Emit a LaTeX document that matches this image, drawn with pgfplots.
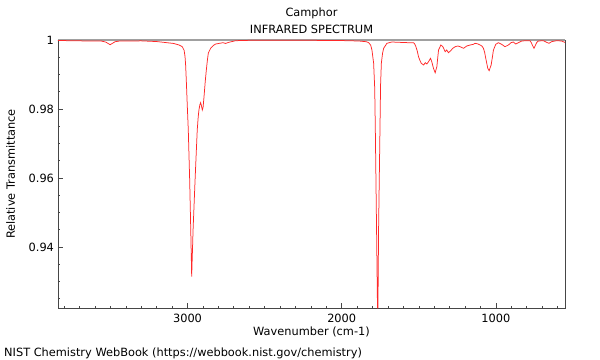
\documentclass[border=0pt]{standalone}
\usepackage{fontspec}
\setmainfont{DejaVu Sans}
\usepackage{pgfplots}
\pgfplotsset{compat=1.18}
\definecolor{spec}{RGB}{255,40,40}
\definecolor{frame}{RGB}{70,70,70}
\definecolor{topline}{RGB}{160,160,160}
\newcommand{\fs}{\fontsize{11.4}{13.5}\selectfont}
\begin{document}
\begin{tikzpicture}
\useasboundingbox (-58bp,-52bp) rectangle (542bp,308bp);
\begin{axis}[
  at={(0,0)}, anchor=south west,
  scale only axis, width=507bp, height=268bp,
  xmin=552, xmax=3840, x dir=reverse,
  ymin=0.9223, ymax=1,
  clip=false,
  xtick={1000,2000,3000},
  minor xtick={600,700,...,3800},
  ytick={0.94,0.96,0.98,1},
  minor ytick={0.925,0.93,...,0.996},
  xtick pos=lower, ytick pos=left,
  tick align=inside,
  major tick length=5bp, minor tick length=2.5bp,
  every tick/.style={frame, line width=0.6bp},
  axis line style={frame, line width=0.8bp},
  /pgf/number format/1000 sep={},
  /pgf/number format/assume math mode=true,
  ticklabel style={font=\fs, text=black},
  xticklabel style={yshift=-3bp},
  yticklabel style={xshift=-0.5bp},
]
\addplot[topline, line width=1.8bp, forget plot] coordinates {(552,1) (3840,1)};
\addplot[spec, line width=0.75bp] coordinates {
(3840,0.99986) (3700,0.99975) (3560,0.99971) (3530,0.99940) (3515,0.99900)
(3502,0.99864) (3488,0.99900) (3470,0.99950) (3440,0.99971) (3300,0.99975)
(3200,0.99955) (3150,0.99930) (3090,0.99900) (3055,0.99855) (3034,0.99806)
(3022,0.99700) (3016,0.99516) (3012,0.99250) (3008,0.98841) (3002,0.98150)
(2995,0.97391) (2986,0.95942) (2979,0.94493) (2975,0.93600) (2973,0.93139)
(2970,0.93600) (2964,0.94493) (2951,0.95942) (2937,0.97391) (2931,0.97750)
(2926,0.97971) (2920,0.98120) (2915,0.98183) (2910,0.98100) (2904,0.97971)
(2899,0.98050) (2893,0.98357) (2885,0.98800) (2878,0.99130) (2871,0.99420)
(2865,0.99623) (2850,0.99759) (2830,0.99850) (2817,0.99884) (2770,0.99922)
(2753,0.99900) (2735,0.99930) (2688,0.99980) (2602,0.99990) (2400,0.99995)
(2200,0.99990) (2019,0.99986) (1889,0.99971) (1840,0.99950) (1825,0.99922)
(1812,0.99850) (1804,0.99710) (1793,0.99325) (1786,0.98600) (1782,0.97391)
(1774,0.94493) (1768,0.9223) (1765,0.9223) (1761,0.94493) (1752,0.97391)
(1748,0.98700) (1743,0.99325) (1735,0.99620) (1728,0.99759) (1707,0.99904)
(1675,0.99942) (1631,0.99933) (1566,0.99922) (1534,0.99922) (1526,0.99880)
(1519,0.99806) (1510,0.99680) (1502,0.99516) (1492,0.99400) (1484,0.99325)
(1469,0.99275) (1458,0.99342) (1448,0.99304) (1437,0.99371) (1424,0.99470)
(1416,0.99371) (1405,0.99180) (1394,0.99052) (1383,0.99226) (1377,0.99500)
(1372,0.99710) (1357,0.99855) (1344,0.99806) (1329,0.99661) (1319,0.99710)
(1308,0.99632) (1293,0.99690) (1280,0.99759) (1264,0.99806) (1247,0.99826)
(1232,0.99806) (1210,0.99759) (1189,0.99826) (1167,0.99855) (1146,0.99875)
(1135,0.99904) (1120,0.99890) (1102,0.99855) (1090,0.99820) (1081,0.99759)
(1073,0.99640) (1066,0.99470) (1053,0.99180) (1044,0.99110) (1031,0.99275)
(1023,0.99500) (1016,0.99710) (1001,0.99875) (984,0.99922) (963,0.99875)
(941,0.99806) (919,0.99855) (902,0.99922) (887,0.99942) (872,0.99884)
(854,0.99922) (833,0.99971) (801,0.99980) (779,0.99980) (770,0.99920)
(764,0.99855) (753,0.99759) (743,0.99855) (735,0.99930) (725,0.99971)
(693,0.99980) (671,0.99933) (656,0.99904) (639,0.99951) (607,0.99980)
(574,0.99971) (559,0.99942) (552,0.99930)
};
\end{axis}
\node[anchor=base, font=\fs] at (253.5bp,291bp) {Camphor};
\node[anchor=base, font=\fs] at (253.5bp,274bp) {INFRARED SPECTRUM};
\node[anchor=base, font=\fs] at (253.5bp,-27bp) {Wavenumber (cm-1)};
\node[anchor=base west, inner sep=0pt, font=\fs] at (-54bp,-48bp) {NIST Chemistry WebBook (https://webbook.nist.gov/chemistry)};
\node[anchor=base, rotate=90, font=\fs] at (-43bp,134bp) {Relative Transmittance};
\end{tikzpicture}
\end{document}
